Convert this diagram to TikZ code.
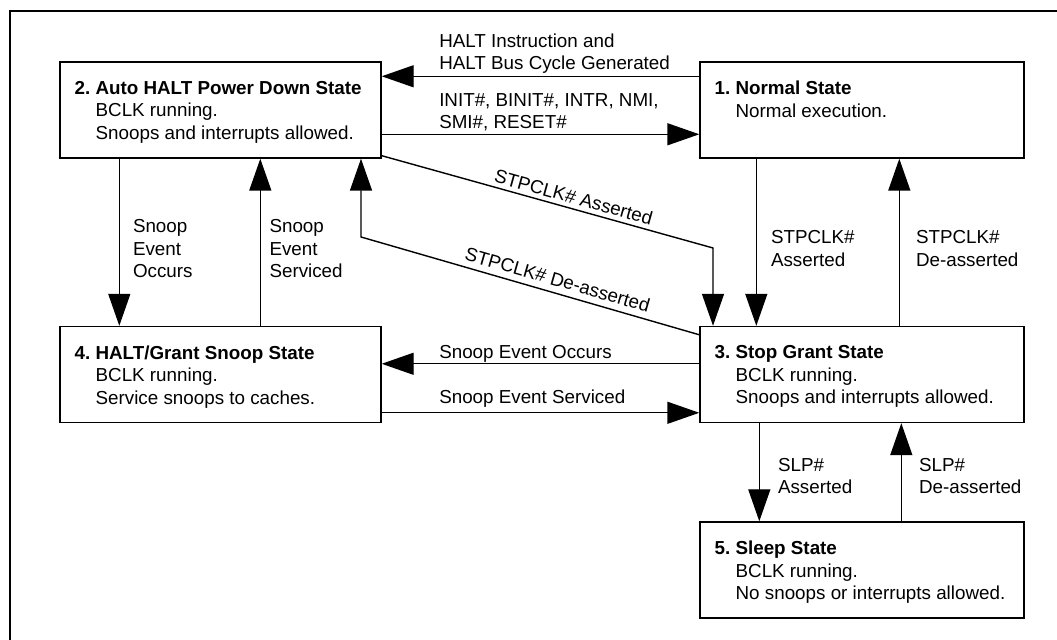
\documentclass[tikz,border=0pt]{standalone}
\usepackage{fontspec}
\setmainfont{Liberation Sans}
\usepackage{tikz}
\usetikzlibrary{arrows.meta,positioning}
\frenchspacing
\newcommand{\stindent}{\hspace*{0.42cm}}

\begin{document}
\begin{tikzpicture}[
  stbox/.style={draw=cbox,line width=0.8pt,minimum height=1.92cm,inner sep=0pt},
  sttext/.style={anchor=north west,align=left,inner sep=0pt,text=ctext,font=\fontsize{10.7}{12.8}\selectfont},
  lbl/.style={align=left,inner sep=0pt,text=ctext,font=\fontsize{10.7}{12.8}\selectfont},
  arr/.style={draw=cedge,line width=0.8pt,-{Triangle[length=0.64cm,width=0.44cm]}},
  frame/.style={draw=cedge,line width=1.2pt}]
%
\useasboundingbox (0,0) rectangle (21.14cm,12.8cm);
%
\definecolor{cbox}{rgb}{0.0,0.0,0.0}
\definecolor{ctext}{rgb}{0.0,0.0,0.0}
\definecolor{cedge}{rgb}{0.0,0.0,0.0}
%
\draw[frame] (0.20cm,0cm) -- (0.20cm,12.58cm) -- (21.14cm,12.58cm);
%
\node[stbox,minimum width=6.48cm] (s1) at (17.24cm,10.60cm) {};
\node[stbox,minimum width=6.42cm] (s2) at (4.41cm,10.60cm) {};
\node[stbox,minimum width=6.48cm] (s3) at (17.24cm,5.31cm) {};
\node[stbox,minimum width=6.42cm] (s4) at (4.41cm,5.31cm) {};
\node[stbox,minimum width=6.48cm] (s5) at (17.24cm,1.40cm) {};
%
\node[sttext] (t1) at ([xshift=0.30cm,yshift=-0.39cm]s1.north west) {\textbf{1. Normal State}\\\stindent Normal execution.};
\node[sttext] (t2) at ([xshift=0.30cm,yshift=-0.39cm]s2.north west) {\textbf{2. Auto HALT Power Down State}\\\stindent BCLK running.\\\stindent Snoops and interrupts allowed.};
\node[sttext] (t3) at ([xshift=0.30cm,yshift=-0.39cm]s3.north west) {\textbf{3. Stop Grant State}\\\stindent BCLK running.\\\stindent Snoops and interrupts allowed.};
\node[sttext] (t4) at ([xshift=0.30cm,yshift=-0.39cm]s4.north west) {\textbf{4. HALT/Grant Snoop State}\\\stindent BCLK running.\\\stindent Service snoops to caches.};
\node[sttext] (t5) at ([xshift=0.30cm,yshift=-0.39cm]s5.north west) {\textbf{5. Sleep State}\\\stindent BCLK running.\\\stindent No snoops or interrupts allowed.};
%
\coordinate (k1) at (14.26cm,7.84cm);
\coordinate (k2) at (7.22cm,8.06cm);
%
\draw[arr] ([yshift=-0.30cm]s1.north west) -- node[lbl,anchor=south west,text depth=0pt,pos=0.821,yshift=0.12cm] (l1) {HALT Instruction and\\HALT Bus Cycle Generated} ([yshift=-0.30cm]s2.north east);
\draw[arr] ([yshift=-1.46cm]s2.north east) -- node[lbl,anchor=south west,text depth=0pt,pos=0.179,yshift=0.10cm] (l2) {INIT\#, BINIT\#, INTR, NMI,\\SMI\#, RESET\#} ([yshift=-1.46cm]s1.north west);
\draw[arr] ([yshift=0.06cm]s2.south east) -- node[lbl,sloped,above,pos=0.57,inner sep=0.08cm] (l3) {STPCLK\# Asserted} (k1) -- (k1 |- s3.north);
\draw[arr] ([yshift=-0.18cm]s3.north west) -- node[lbl,sloped,above,pos=0.43,inner sep=0.12cm] (l4) {STPCLK\# De-asserted} (k2) -- (k2 |- s2.south);
%
\draw[arr] ([xshift=1.14cm]s1.south west) -- node[lbl,anchor=west,xshift=0.28cm,yshift=-0.13cm] (l5) {STPCLK\#\\Asserted} ([xshift=1.14cm]s3.north west);
\draw[arr] ([xshift=4.00cm]s3.north west) -- node[lbl,anchor=west,xshift=0.32cm,yshift=-0.13cm] (l6) {STPCLK\#\\De-asserted} ([xshift=4.00cm]s1.south west);
\draw[arr] ([xshift=1.20cm]s2.south west) -- node[lbl,anchor=west,xshift=0.26cm,yshift=-0.13cm] (l7) {Snoop\\Event\\Occurs} ([xshift=1.20cm]s4.north west);
\draw[arr] ([xshift=4.02cm]s4.north west) -- node[lbl,anchor=west,xshift=0.17cm,yshift=-0.13cm] (l8) {Snoop\\Event\\Serviced} ([xshift=4.02cm]s2.south west);
%
\draw[arr] ([yshift=-0.76cm]s3.north west) -- node[lbl,anchor=south west,text depth=0pt,pos=0.821,yshift=0.10cm] (l9) {Snoop Event Occurs} ([yshift=-0.76cm]s4.north east);
\draw[arr] ([yshift=-1.74cm]s4.north east) -- node[lbl,anchor=south west,text depth=0pt,pos=0.179,yshift=0.17cm] (l10) {Snoop Event Serviced} ([yshift=-1.74cm]s3.north west);
%
\draw[arr] ([xshift=1.20cm]s3.south west) -- node[lbl,anchor=west,xshift=0.36cm,yshift=-0.08cm] (l11) {SLP\#\\Asserted} ([xshift=1.20cm]s5.north west);
\draw[arr] ([xshift=4.04cm]s5.north west) -- node[lbl,anchor=west,xshift=0.34cm,yshift=-0.08cm] (l12) {SLP\#\\De-asserted} ([xshift=4.04cm]s3.south west);
%
\end{tikzpicture}
\end{document}
